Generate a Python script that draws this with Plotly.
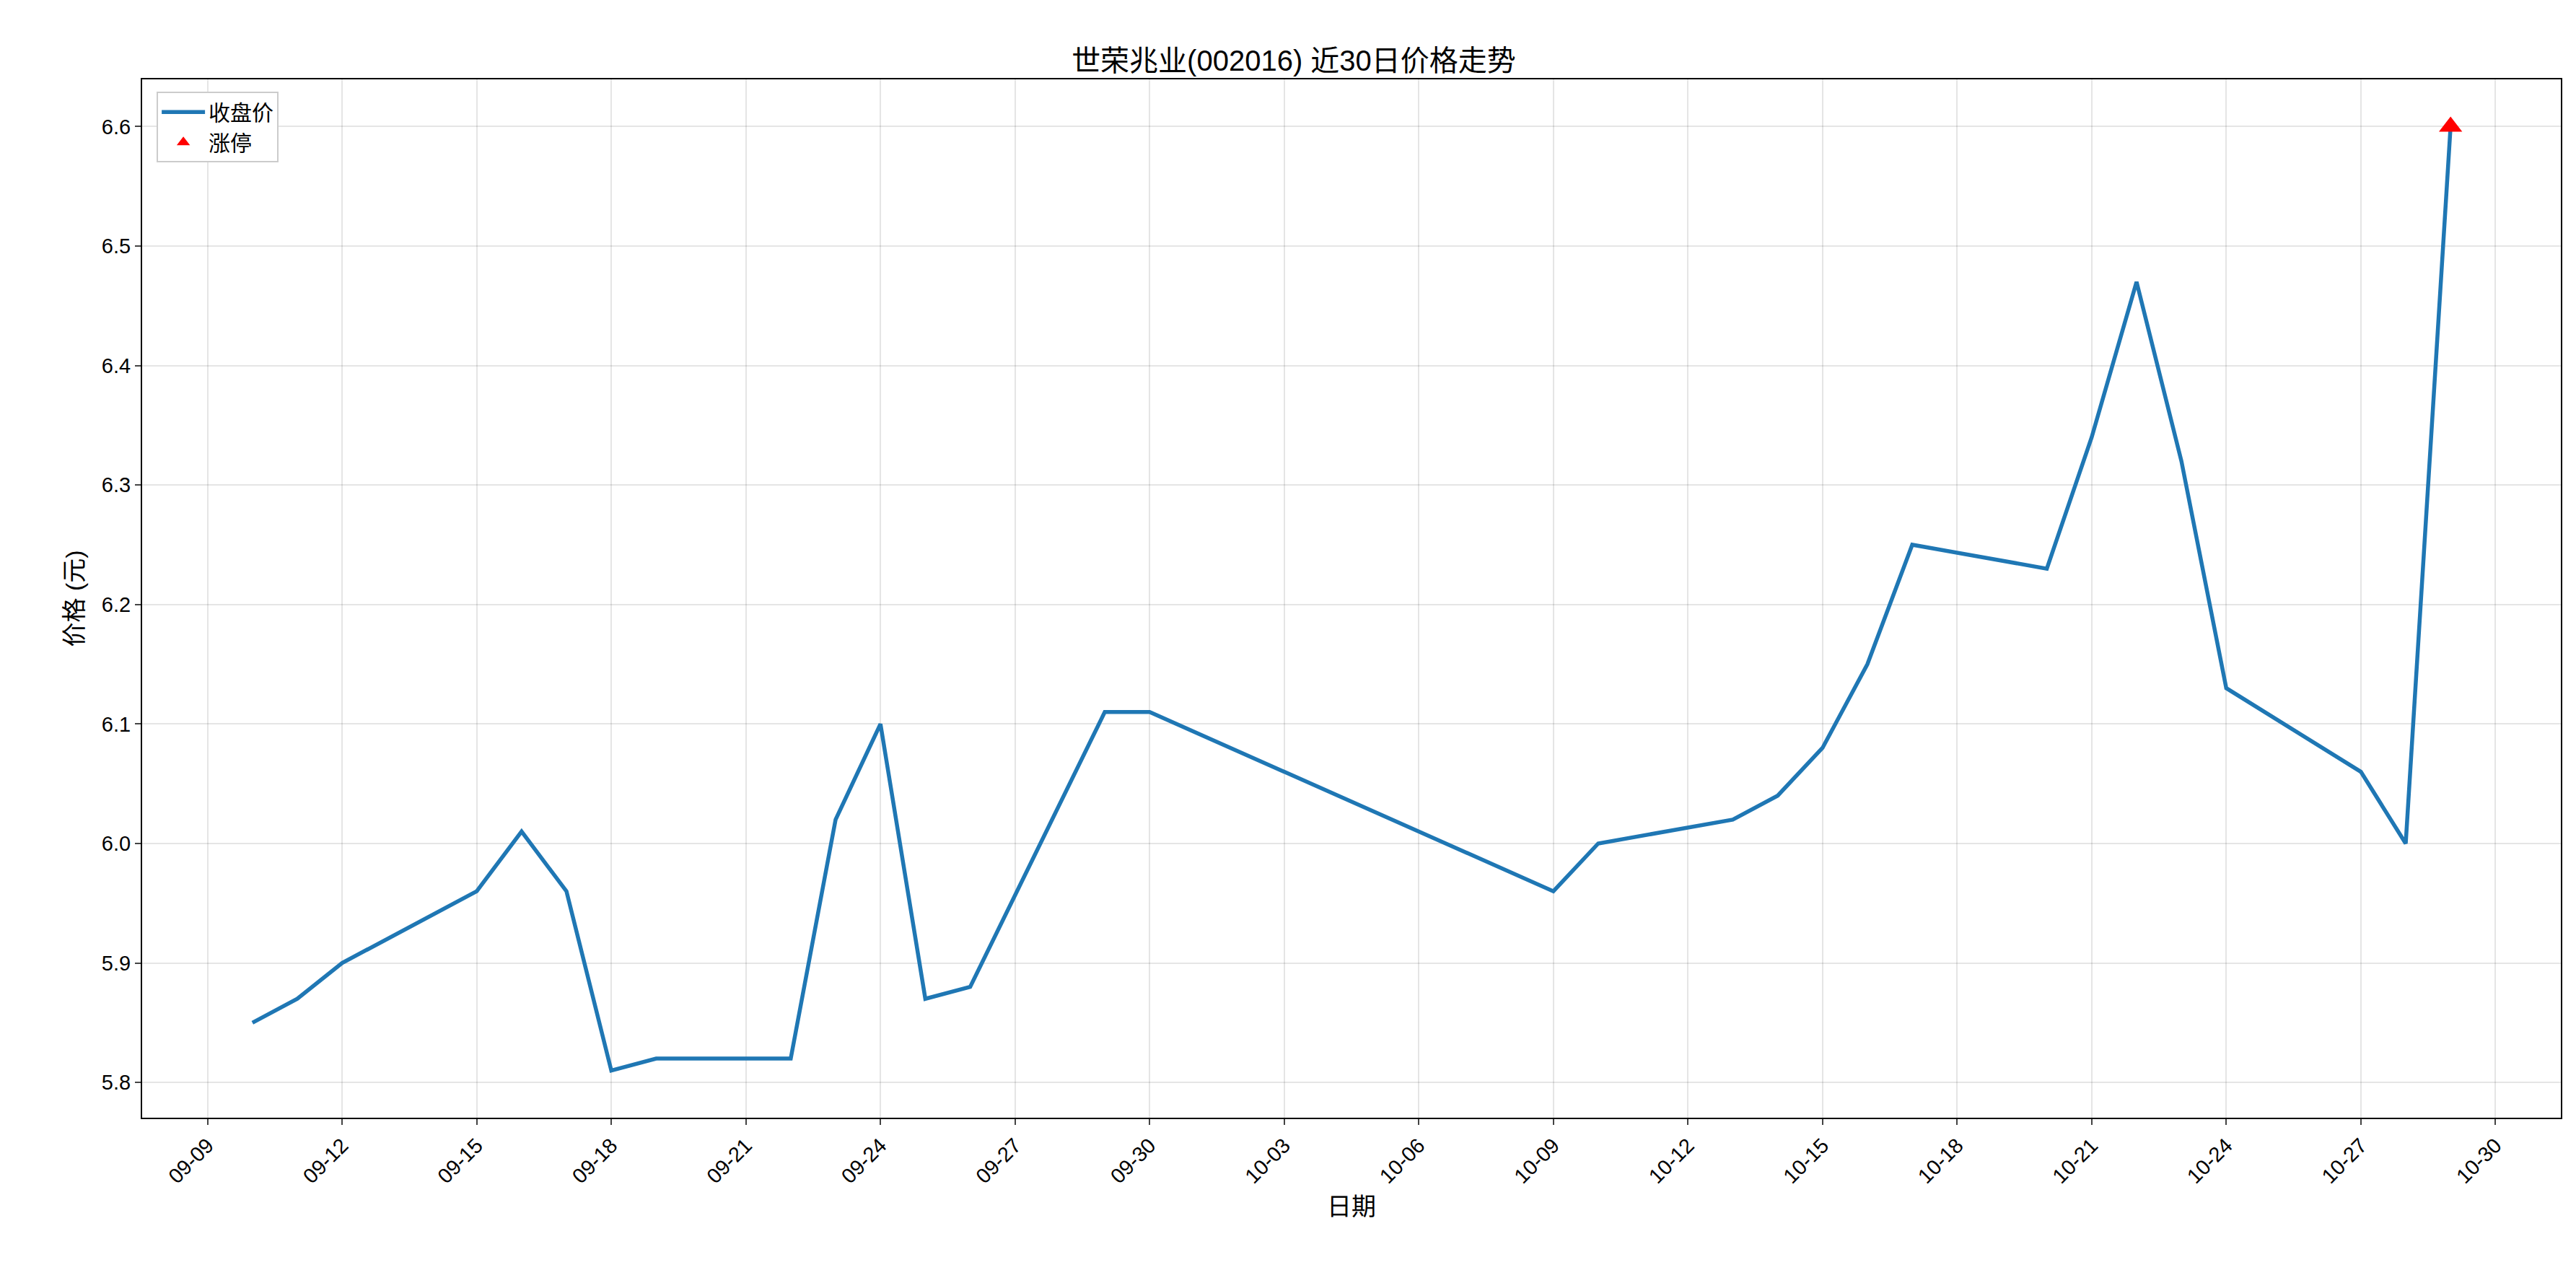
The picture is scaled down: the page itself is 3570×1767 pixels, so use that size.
import plotly.graph_objects as go
import pandas as pd

dates = ["2025-09-10","2025-09-11","2025-09-12","2025-09-15","2025-09-16","2025-09-17","2025-09-18","2025-09-19",
         "2025-09-22","2025-09-23","2025-09-24","2025-09-25","2025-09-26","2025-09-29","2025-09-30",
         "2025-10-09","2025-10-10","2025-10-13","2025-10-14","2025-10-15","2025-10-16","2025-10-17",
         "2025-10-20","2025-10-21","2025-10-22","2025-10-23","2025-10-24","2025-10-27","2025-10-28","2025-10-29"]
close = [5.85,5.87,5.90,5.96,6.01,5.96,5.81,5.82,5.82,6.02,6.10,5.87,5.88,6.11,6.11,
         5.96,6.00,6.02,6.04,6.08,6.15,6.25,6.23,6.34,6.47,6.32,6.13,6.06,6.00,6.60]
limit_dates = ["2025-10-29"]
limit_prices = [6.60]
tick_dates = pd.date_range("2025-09-09", "2025-10-30", freq="3D")
tick_labels = [d.strftime("%m-%d") for d in tick_dates]

FONT = "Liberation Sans, Noto Sans CJK SC, sans-serif"
fig = go.Figure()
fig.add_trace(go.Scatter(x=dates, y=close, mode="lines", name="收盘价",
                         line=dict(color="#1f77b4", width=5.5)))
fig.add_trace(go.Scatter(x=limit_dates, y=limit_prices, mode="markers", name="涨停",
                         marker=dict(symbol="triangle-up", color="red", size=28)))
fig.update_layout(
    width=3570, height=1767, paper_bgcolor="white", plot_bgcolor="white",
    margin=dict(l=189, r=29, t=102, b=226),
    font=dict(family=FONT, size=29, color="black"),
    title=dict(text="世荣兆业(002016) 近30日价格走势", x=0.5, xanchor="center", y=0.965, font=dict(size=40)),
    legend=dict(x=0.006, y=0.988, xanchor="left", yanchor="top", bgcolor="white",
                bordercolor="#cccccc", borderwidth=2, font=dict(size=30), tracegroupgap=10,
                itemwidth=60),
    showlegend=True,
)
fig.update_xaxes(range=["2025-09-07 13:00", "2025-10-31 11:00"], tickvals=list(tick_dates), ticktext=tick_labels,
                 tickangle=-45, showgrid=True, gridcolor="rgba(0,0,0,0.1)", gridwidth=2,
                 showline=True, mirror=True, linecolor="black", linewidth=2, ticks="outside", ticklen=8,
                 tickwidth=2, title=dict(text="日期", font=dict(size=34)))
fig.update_yaxes(range=[5.7705, 6.6395], tickvals=[5.8,5.9,6.0,6.1,6.2,6.3,6.4,6.5,6.6], tickformat=".1f",
                 showgrid=True, gridcolor="rgba(0,0,0,0.1)", gridwidth=2, zeroline=False,
                 showline=True, mirror=True, linecolor="black", linewidth=2, ticks="outside", ticklen=8,
                 tickwidth=2, title=dict(text="价格 (元)", font=dict(size=34)))
fig.write_html("out.html")
